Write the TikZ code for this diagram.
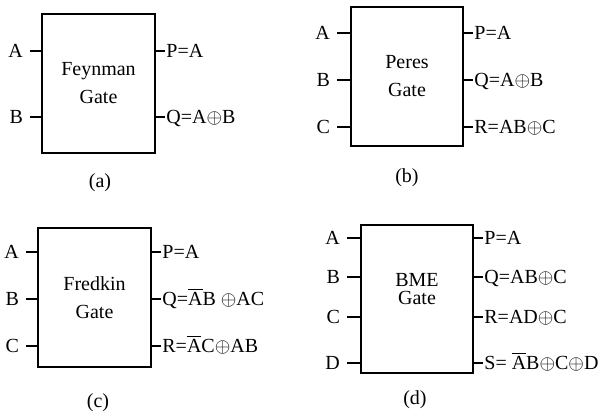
\documentclass[tikz,border=0pt]{standalone}
\usepackage{fontspec}
\setmainfont{Liberation Serif}
\usetikzlibrary{positioning}
\newcommand{\nbar}[1]{$\overline{\mbox{#1}}$}
\newcommand{\xr}{${\oplus}$}

\begin{document}
\begin{tikzpicture}[x=0.5pt,y=-0.5pt,every node/.style={font=\fontsize{10}{14}\selectfont},
  gate/.style={draw,line width=1pt,minimum width=56.5pt,minimum height=69.5pt,align=center,inner sep=0pt},
  inp/.style={anchor=east,text height=6.6pt,text depth=0pt},
  outp/.style={anchor=west,inner sep=0.5pt,text height=6.6pt,text depth=0pt},
  wire/.style={line width=0.6pt}]
\useasboundingbox (0,0) rectangle (607,417);
% (a) Feynman gate
\node[gate] (fg) at (98.5,83.5) {Feynman\\Gate};
\node[inp] (fa) at (30,51) {A};
\node[inp] (fb) at (30,117) {B};
\node[outp] (fp) at (165,51) {P=A};
\node[outp] (fq) at (165,117) {Q=A\xr B};
\draw[wire] (fa) -- (fa -| fg.west);
\draw[wire] (fb) -- (fb -| fg.west);
\draw[wire] (fp) -- (fp -| fg.east);
\draw[wire] (fq) -- (fq -| fg.east);
\node (fcap) at (100,183) {(a)};
% (b) Peres gate
\node[gate,minimum width=56pt] (pg) at (407,76.5) {Peres\\Gate};
\node[inp] (pa) at (337,33) {A};
\node[inp] (pb) at (337,80) {B};
\node[inp] (pc) at (337,127) {C};
\node[outp] (pp) at (473,33) {P=A};
\node[outp] (pq) at (473,80) {Q=A\xr B};
\node[outp] (pr) at (473,127) {R=AB\xr C};
\draw[wire] (pa) -- (pa -| pg.west);
\draw[wire] (pb) -- (pb -| pg.west);
\draw[wire] (pc) -- (pc -| pg.west);
\draw[wire] (pp) -- (pp -| pg.east);
\draw[wire] (pq) -- (pq -| pg.east);
\draw[wire] (pr) -- (pr -| pg.east);
\node (pcap) at (407,178) {(b)};
% (c) Fredkin gate
\node[gate] (kg) at (94.5,297.5) {Fredkin\\Gate};
\node[inp] (ka) at (26,252) {A};
\node[inp] (kb) at (26,299) {B};
\node[inp] (kc) at (26,346) {C};
\node[outp] (kp) at (161,252) {P=A};
\node[outp] (kq) at (161,299) {Q=\nbar{A}B \xr AC};
\node[outp] (kr) at (161,346) {R=\nbar{A}C\xr AB};
\draw[wire] (ka) -- (ka -| kg.west);
\draw[wire] (kb) -- (kb -| kg.west);
\draw[wire] (kc) -- (kc -| kg.west);
\draw[wire] (kp) -- (kp -| kg.east);
\draw[wire] (kq) -- (kq -| kg.east);
\draw[wire] (kr) -- (kr -| kg.east);
\node (kcap) at (98,403) {(c)};
% (d) BME gate
\node[gate,minimum width=56pt,minimum height=74pt] (bg) at (417,299) {};
\node[align=center] (bt) at (417,289) {BME\\[-5pt]Gate};
\node[inp] (ba) at (347,238) {A};
\node[inp] (bb) at (347,277) {B};
\node[inp] (bc) at (347,317) {C};
\node[inp] (bd) at (347,363) {D};
\node[outp] (bp) at (483,238) {P=A};
\node[outp] (bq) at (483,277) {Q=AB\xr C};
\node[outp] (br) at (483,317) {R=AD\xr C};
\node[outp] (bs) at (483,363) {S= \nbar{A}B\xr C\xr D};
\draw[wire] (ba) -- (ba -| bg.west);
\draw[wire] (bb) -- (bb -| bg.west);
\draw[wire] (bc) -- (bc -| bg.west);
\draw[wire] (bd) -- (bd -| bg.west);
\draw[wire] (bp) -- (bp -| bg.east);
\draw[wire] (bq) -- (bq -| bg.east);
\draw[wire] (br) -- (br -| bg.east);
\draw[wire] (bs) -- (bs -| bg.east);
\node (bcap) at (415,400) {(d)};
\end{tikzpicture}
\end{document}
